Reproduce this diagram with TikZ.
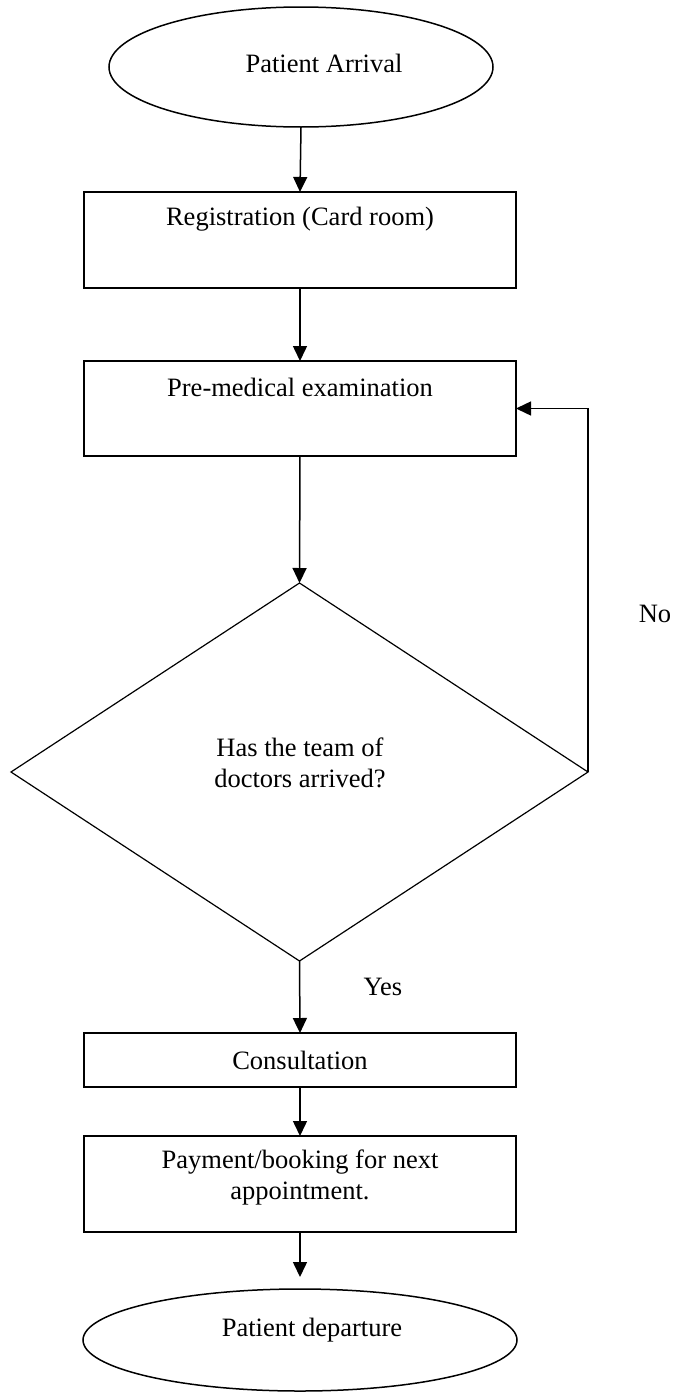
\documentclass[tikz,border=0pt]{standalone}
\usepackage{fontspec}
\setmainfont{Liberation Serif}
\usetikzlibrary{shapes.geometric,arrows.meta}
\begin{document}
\begin{tikzpicture}[x=1pt,y=-1pt,
  every node/.style={font=\fontsize{26.5}{31}\selectfont},
  shp/.style={draw=black,line width=1.5pt,inner sep=0pt,outer sep=0pt},
  box/.style={shp,rectangle,minimum width=432pt},
  oval/.style={shp,ellipse},
  txt/.style={inner sep=0pt,align=center},
  arr/.style={line width=1.5pt,-{Triangle[length=15pt,width=14pt]}}
]
\useasboundingbox (0,0) rectangle (674,1392);
% shapes
\node[oval,minimum width=384pt,minimum height=120pt] (arrival) at (301,67) {};
\node[txt] (arrivalT) at (324,63) {Patient Arrival};
\node[box,minimum height=96pt] (reg) at (300,240) {};
\node[txt] (regT) at (300,219) {Registration (Card room)};
\node[box,minimum height=95pt] (pre) at (300,408.5) {};
\node[txt] (preT) at (300,387) {Pre-medical examination};
\node[shp,diamond,aspect=1.526,minimum width=577pt,minimum height=378pt,line width=1.2pt] (dia) at (299.5,772) {};
\node[txt] (diaT) at (300,763) {Has the team of\\doctors arrived?};
\node[box,minimum height=54pt] (cons) at (300,1060) {};
\node[txt] (consT) at (300,1060) {Consultation};
\node[box,minimum height=96pt] (pay) at (300,1184) {};
\node[txt] (payT) at (300,1177) {Payment/booking for next\\appointment.};
\node[oval,minimum width=434pt,minimum height=102pt] (dep) at (300,1340) {};
\node[txt] (depT) at (312,1330) {Patient departure};
% labels
\node[txt] (no) at (655,614) {No};
\node[txt] (yes) at (383,987) {Yes};
% connectors
\draw[arr] (arrival.south) -- (reg.north);
\draw[arr] (reg.south) -- (pre.north);
\draw[arr] (pre.south) -- (dia.north);
\draw[arr] (dia.south) -- (cons.north);
\draw[arr] (cons.south) -- (pay.north);
\draw[arr,shorten >=12pt] (pay.south) -- (dep.north);
\draw[arr] (dia.east) |- (pre.east);
\end{tikzpicture}
\end{document}
